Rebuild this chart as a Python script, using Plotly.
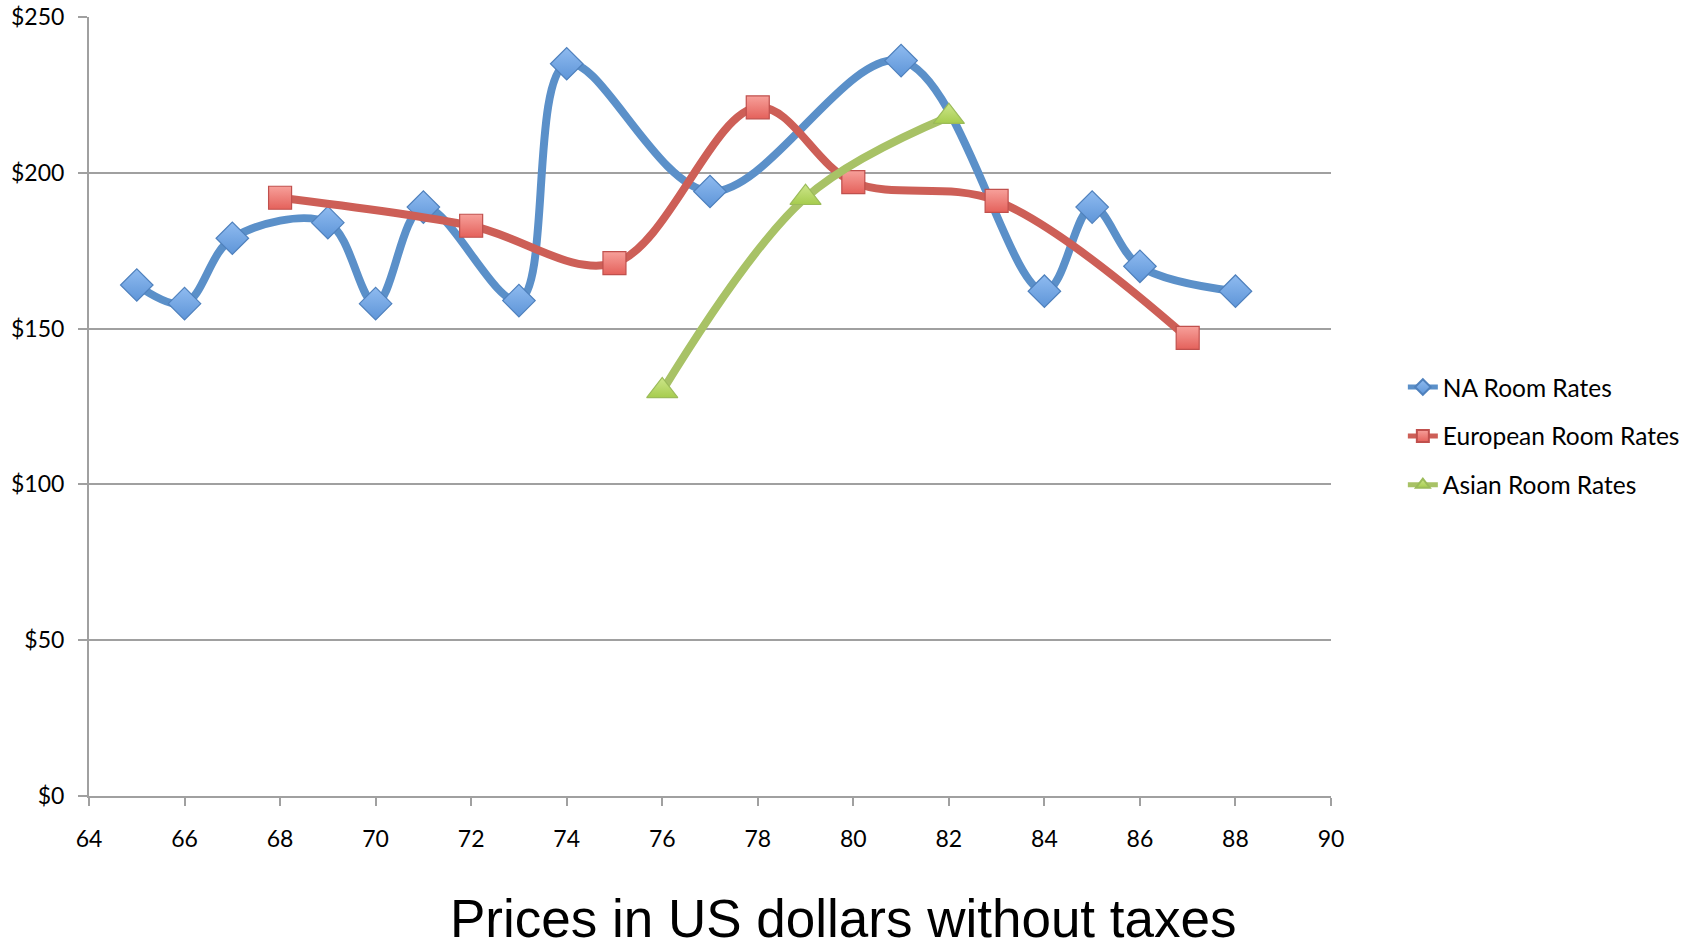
import plotly.graph_objects as go

na_x = [65, 66, 67, 69, 70, 71, 73, 74, 77, 81, 84, 85, 86, 88]
na_y = [164, 158, 179, 184, 158, 189, 159, 235, 194, 236, 162, 189, 170, 162]
eu_x = [68, 72, 75, 78, 80, 83, 87]
eu_y = [192, 183, 171, 221, 197, 191, 147]
as_x = [76, 79, 82]
as_y = [130, 192, 218]
x_ticks = list(range(64, 91, 2))
y_ticks = [0, 50, 100, 150, 200, 250]
y_labels = ["$" + str(v) for v in y_ticks]

series = [
    ("NA Room Rates", na_x, na_y, "#5B90C9", "diamond", "#8FBBF0", "#5E95D8", "#4F81BD", 25),
    ("European Room Rates", eu_x, eu_y, "#CD5F57", "square", "#F7A09A", "#E4615B", "#C0504D", 23),
    ("Asian Room Rates", as_x, as_y, "#A8C266", "triangle-up", "#CDE68A", "#A6CC4E", "#9BBB59", 27),
]

fig = go.Figure()
for i, (name, xs, ys, lc, sym, fill, grad, edge, ms) in enumerate(series):
    fig.add_trace(go.Scatter(
        x=xs, y=ys, name=name, mode="lines+markers",
        legendgroup=name,
        line=dict(color=lc, width=8, shape="spline", smoothing=1.0),
        marker=dict(symbol=sym, size=ms, color=fill,
                    gradient=dict(type="vertical", color=grad),
                    line=dict(color=edge, width=1.2)),
    ))

fig.update_layout(
    width=1696, height=951,
    margin=dict(l=89, r=364, t=17, b=155),
    plot_bgcolor="white", paper_bgcolor="white",
    font=dict(family="Lato, Open Sans, sans-serif", color="#000000", size=22),
    showlegend=True,
    legend=dict(x=1.057, y=0.462, xanchor="left", yanchor="middle",
                font=dict(size=24.5, family="Lato, sans-serif"),
                traceorder="grouped", tracegroupgap=14, itemsizing="constant",
                bgcolor="rgba(0,0,0,0)"),
    xaxis=dict(range=[64, 90], tickvals=x_ticks, ticktext=[str(v) for v in x_ticks],
               showgrid=False, zeroline=False, automargin=False,
               showline=True, linecolor="#A0A0A0", linewidth=2,
               ticks="outside", ticklen=8, tickcolor="#A0A0A0", tickwidth=2,
               ticklabelstandoff=13,
               tickfont=dict(size=23, family="Lato, sans-serif")),
    yaxis=dict(range=[0, 250], tickvals=y_ticks, ticktext=y_labels,
               showgrid=True, gridcolor="#A0A0A0", gridwidth=1.5, zeroline=False,
               automargin=False,
               showline=True, linecolor="#A0A0A0", linewidth=2,
               ticks="outside", ticklen=9, tickcolor="#A0A0A0", tickwidth=1.5,
               ticklabelstandoff=9,
               tickfont=dict(size=23, family="Lato, sans-serif")),
    annotations=[dict(text="Prices in US dollars without taxes", xref="paper", yref="paper",
                      x=0.6076, y=-0.157, xanchor="center", yanchor="middle",
                      showarrow=False,
                      font=dict(size=53, family="Liberation Sans, Arial, sans-serif", color="#000000"))],
)

fig.write_html("out.html", config={"displayModeBar": False},
               post_script="document.body.style.margin='0';document.body.style.overflow='hidden';")
